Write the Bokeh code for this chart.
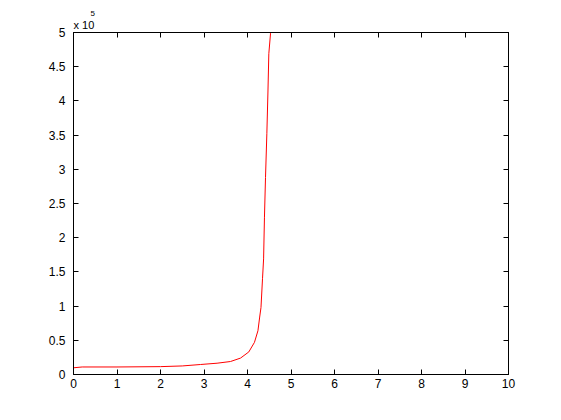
from bokeh.plotting import figure
from bokeh.models import Range1d, LinearAxis, FixedTicker, Title
from bokeh.embed import file_html
from bokeh.resources import INLINE

x_vals = [0, 0.2, 1, 2, 2.5, 2.92, 3.3, 3.61, 3.84, 4.03, 4.16, 4.24, 4.28, 4.31,
          4.345, 4.37, 4.39, 4.414, 4.445, 4.47, 4.49, 4.53, 4.545, 4.56]
y_vals = [9800, 11000, 11000, 11500, 12500, 14600, 16500, 19000, 24000, 33000,
          47000, 64000, 84000, 98000, 140000, 169000, 230000, 288000, 352000,
          413000, 469000, 499000, 500000, 530000]
x_ticks = [0, 1, 2, 3, 4, 5, 6, 7, 8, 9, 10]
y_ticks = [0, 0.5, 1, 1.5, 2, 2.5, 3, 3.5, 4, 4.5, 5]
y_scale = 1e5
exponent_label = "x 10"
exponent_power = "5"

FONT = "Liberation Sans"

p = figure(width=545, height=404, output_backend="svg", toolbar_location=None,
           x_range=Range1d(0, 10), y_range=Range1d(0, 5),
           min_border_left=73, min_border_right=37, min_border_top=32, min_border_bottom=30)
p.grid.visible = False
p.outline_line_color = "black"
p.outline_line_width = 1
p.background_fill_color = "white"
p.border_fill_color = "white"

p.line(x_vals, [y / y_scale for y in y_vals], line_color="#ff0000", line_width=1)

def style(ax, labels=True, ticks=None):
    ax.axis_line_color = "black"
    ax.major_tick_in = 5
    ax.major_tick_out = 0
    ax.minor_tick_in = 0
    ax.minor_tick_out = 0
    ax.major_tick_line_color = "black"
    ax.major_label_text_font = FONT
    ax.major_label_text_font_size = "12px"
    ax.major_label_text_color = "black"
    if labels:
        ax.major_label_overrides = {t: (str(int(t)) if t == int(t) else str(t)) for t in ticks}
    else:
        ax.major_label_overrides = {t: "" for t in ticks}
        ax.major_label_standoff = 0

p.xaxis.ticker = FixedTicker(ticks=x_ticks)
p.yaxis.ticker = FixedTicker(ticks=y_ticks)
style(p.xaxis[0], ticks=x_ticks)
style(p.yaxis[0], ticks=y_ticks)
p.xaxis.major_label_standoff = 4
p.yaxis.major_label_standoff = 8

top = LinearAxis(ticker=FixedTicker(ticks=x_ticks))
style(top, labels=False, ticks=x_ticks)
p.add_layout(top, "above")
right = LinearAxis(ticker=FixedTicker(ticks=y_ticks))
style(right, labels=False, ticks=y_ticks)
p.add_layout(right, "right")

p.add_layout(Title(text=exponent_label, align="left", offset=0, standoff=3,
                   text_font=FONT, text_font_size="11px", text_font_style="normal",
                   text_color="black"), "above")
p.add_layout(Title(text=exponent_power, align="left", offset=17, standoff=0,
                   text_font=FONT, text_font_size="8px", text_font_style="normal",
                   text_color="black"), "above")

open("out.html", "w").write(file_html(p, INLINE))
